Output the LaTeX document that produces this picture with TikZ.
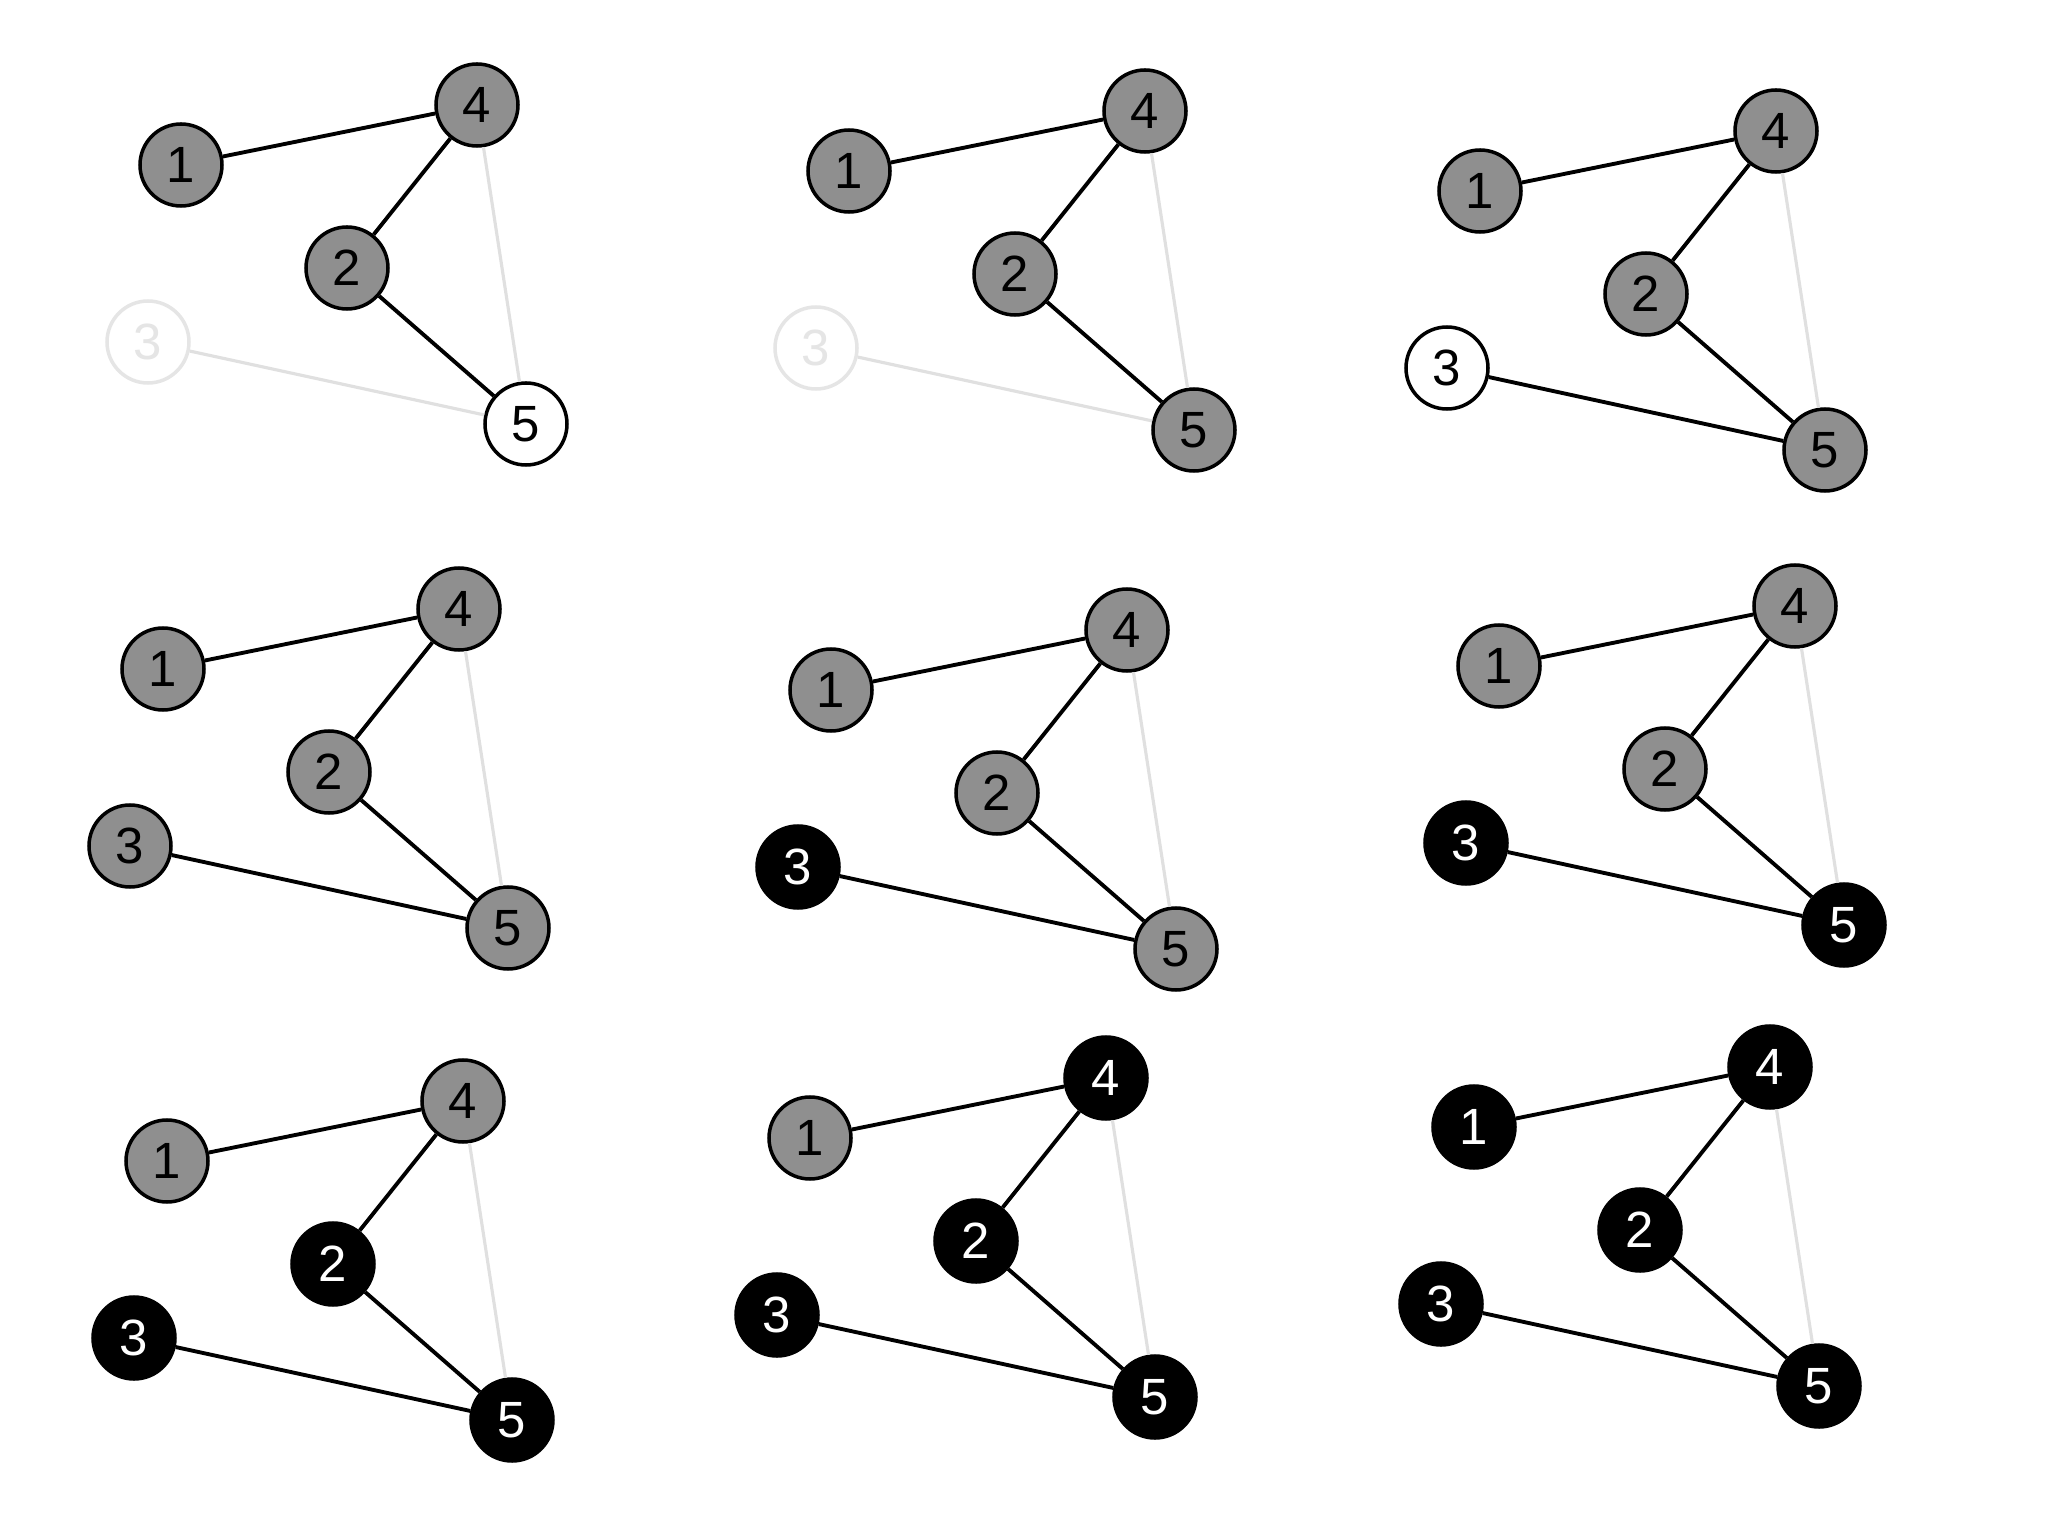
\documentclass[tikz,border=0pt]{standalone}
\usepackage{fontspec}
\setmainfont{Liberation Sans}
\newcommand{\mymidgray}{black!44}
\newcommand{\myfaint}{black!10}
\tikzset{
  vtx/.style = {circle, draw = black, line width = 1pt, minimum size = .82cm, inner sep = 0pt, font = \fontsize{14.5}{14.5}\selectfont},
  vgray/.style = {vtx, fill = \mymidgray},
  vblack/.style = {vtx, fill = black, text = white},
  vwhite/.style = {vtx, fill = white},
  vfaint/.style = {vtx, fill = white, draw = \myfaint, text = \myfaint},
  eon/.style = {draw = black, line width = 1.1pt},
  eoff/.style = {draw = black!12, line width = .9pt}
}
% #1..#5: styles of vertices 1..5, #6: style of the edge 3--5
\newcommand{\mygraph}[6]{
\node[#1] (1) at (0,0) {1};
\node[#4] (4) at (2.96,.60) {4};
\node[#2] (2) at (1.66,-1.03) {2};
\node[#3] (3) at (-.33,-1.77) {3};
\node[#5] (5) at (3.45,-2.59) {5};
\draw[eon] (1) -- (4);
\draw[eon] (4) -- (2);
\draw[eon] (2) -- (5);
\draw[eoff] (4) -- (5);
\draw[#6] (3) -- (5);
}

\begin{document}
\begin{tikzpicture}
\useasboundingbox (0,0) rectangle (20.48,-15.36);
\begin{scope}[shift = {(1.81,-1.65)}, name prefix = a-]
\mygraph{vgray}{vgray}{vfaint}{vgray}{vwhite}{eoff}
\end{scope}
\begin{scope}[shift = {(8.49,-1.71)}, name prefix = b-]
\mygraph{vgray}{vgray}{vfaint}{vgray}{vgray}{eoff}
\end{scope}
\begin{scope}[shift = {(14.80,-1.91)}, name prefix = c-]
\mygraph{vgray}{vgray}{vwhite}{vgray}{vgray}{eon}
\end{scope}
\begin{scope}[shift = {(1.63,-6.69)}, name prefix = d-]
\mygraph{vgray}{vgray}{vgray}{vgray}{vgray}{eon}
\end{scope}
\begin{scope}[shift = {(8.31,-6.90)}, name prefix = e-]
\mygraph{vgray}{vgray}{vblack}{vgray}{vgray}{eon}
\end{scope}
\begin{scope}[shift = {(14.99,-6.66)}, name prefix = f-]
\mygraph{vgray}{vgray}{vblack}{vgray}{vblack}{eon}
\end{scope}
\begin{scope}[shift = {(1.67,-11.61)}, name prefix = g-]
\mygraph{vgray}{vblack}{vblack}{vgray}{vblack}{eon}
\end{scope}
\begin{scope}[shift = {(8.10,-11.38)}, name prefix = h-]
\mygraph{vgray}{vblack}{vblack}{vblack}{vblack}{eon}
\end{scope}
\begin{scope}[shift = {(14.74,-11.27)}, name prefix = i-]
\mygraph{vblack}{vblack}{vblack}{vblack}{vblack}{eon}
\end{scope}
\end{tikzpicture}
\end{document}
